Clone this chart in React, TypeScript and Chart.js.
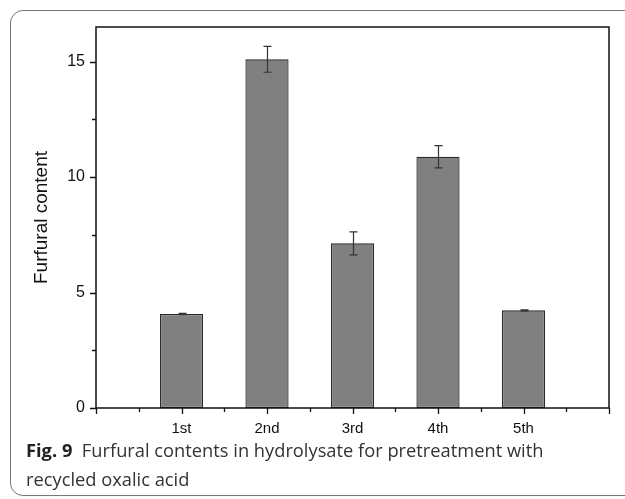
import React, { useEffect, useRef } from "react";
import { Chart, registerables } from "chart.js";

Chart.register(...registerables);

const categories = ["", "1st", "2nd", "3rd", "4th", "5th", ""];
const furfural: (number | null)[] = [null, 4.07, 15.1, 7.13, 10.88, 4.23, null];
const furfuralErr: (number | null)[] = [null, 0.03, 0.56, 0.5, 0.48, 0.02, null];
const yMin = 0;
const yMax = 16.5;
const yMajorStep = 5;
const yMinorStep = 2.5;
const yTitle = "Furfural content";
const captionBold = "Fig. 9";
const captionLine1 = "Furfural contents in hydrolysate for pretreatment with";
const captionLine2 = "recycled oxalic acid";

const axisFont = "'Liberation Sans', Arial, sans-serif";

const boxAndTicks = {
  id: "boxAndTicks",
  afterDraw(chart: any) {
    const { ctx, chartArea } = chart;
    const ys = chart.scales.y;
    const xs = chart.scales.x;
    ctx.save();
    ctx.strokeStyle = "#111";
    ctx.lineWidth = 1.5;
    ctx.strokeRect(chartArea.left, chartArea.top, chartArea.right - chartArea.left, chartArea.bottom - chartArea.top);
    ctx.lineWidth = 1.3;
    ctx.beginPath();
    for (let v = yMin; v <= yMax + 1e-9; v += yMinorStep) {
      const py = Math.round(ys.getPixelForValue(v)) + 0.5;
      const major = Math.abs(v / yMajorStep - Math.round(v / yMajorStep)) < 1e-6;
      const len = major ? 6 : 4;
      ctx.moveTo(chartArea.left, py);
      ctx.lineTo(chartArea.left - len, py);
    }
    const n = categories.length;
    for (let i = 0; i < n; i++) {
      const px = Math.round(xs.getPixelForValue(i)) + 0.5;
      ctx.moveTo(px, chartArea.bottom);
      ctx.lineTo(px, chartArea.bottom + 6);
      if (i < n - 1) {
        const mx = Math.round((xs.getPixelForValue(i) + xs.getPixelForValue(i + 1)) / 2) + 0.5;
        ctx.moveTo(mx, chartArea.bottom);
        ctx.lineTo(mx, chartArea.bottom + 4);
      }
    }
    ctx.stroke();
    ctx.restore();
  },
};

const errorBars = {
  id: "errorBars",
  afterDatasetsDraw(chart: any) {
    const { ctx } = chart;
    const ys = chart.scales.y;
    const meta = chart.getDatasetMeta(0);
    ctx.save();
    ctx.strokeStyle = "#333";
    ctx.lineWidth = 1.2;
    meta.data.forEach((el: any, i: number) => {
      const v = furfural[i];
      const e = furfuralErr[i];
      if (v == null || e == null) return;
      const x = Math.round(el.x) + 0.5;
      const top = ys.getPixelForValue(v + e);
      const bot = ys.getPixelForValue(v - e);
      ctx.beginPath();
      ctx.moveTo(x, top);
      ctx.lineTo(x, bot);
      ctx.moveTo(x - 4, top);
      ctx.lineTo(x + 4, top);
      ctx.moveTo(x - 4, bot);
      ctx.lineTo(x + 4, bot);
      ctx.stroke();
    });
    ctx.restore();
  },
};

export default function App() {
  const canvasRef = useRef<HTMLCanvasElement | null>(null);

  useEffect(() => {
    const chart = new Chart(canvasRef.current as HTMLCanvasElement, {
      type: "bar",
      data: {
        labels: categories,
        datasets: [
          {
            data: furfural as any,
            backgroundColor: "#808080",
            borderColor: "#2a2a2a",
            borderWidth: 1.3,
            borderSkipped: false,
            categoryPercentage: 1,
            barPercentage: 0.505,
          },
        ],
      },
      options: {
        animation: false,
        responsive: false,
        maintainAspectRatio: false,
        layout: { padding: { left: 0, right: 16, top: 27, bottom: 0 } },
        plugins: { legend: { display: false }, tooltip: { enabled: false }, title: { display: false } },
        scales: {
          x: {
            type: "category",
            offset: false,
            grid: { display: false, drawTicks: false },
            border: { display: false },
            ticks: {
              color: "#111",
              font: { family: axisFont, size: 15 },
              padding: 12,
              autoSkip: false,
              maxRotation: 0,
            },
            afterFit: (s: any) => {
              s.height = 91;
            },
          },
          y: {
            min: yMin,
            max: yMax,
            grid: { display: false, drawTicks: false },
            border: { display: false },
            ticks: {
              stepSize: yMinorStep,
              includeBounds: false,
              color: "#111",
              font: { family: axisFont, size: 16 },
              padding: 11,
              callback: (v: any) => (Math.abs(v % yMajorStep) < 1e-6 ? String(v) : ""),
            },
            title: {
              display: true,
              text: yTitle,
              color: "#111",
              font: { family: axisFont, size: 19 },
              padding: { top: 30, bottom: 0 },
            },
            afterFit: (s: any) => {
              s.width = 96;
            },
          },
        },
      },
      plugins: [errorBars, boxAndTicks],
    });
    return () => chart.destroy();
  }, []);

  return (
    <div style={{ position: "fixed", left: 0, top: 0, width: 625, height: 499, overflow: "hidden", background: "#fff" }}>
      <div
        style={{
          position: "absolute",
          left: 10,
          top: 10,
          width: 700,
          height: 486,
          border: "1.5px solid #777",
          borderRadius: 13,
          boxSizing: "border-box",
        }}
      />
      <canvas ref={canvasRef} width={625} height={499} style={{ position: "absolute", left: 0, top: 0, width: 625, height: 499 }} />
      <div
        style={{
          position: "absolute",
          left: 26,
          top: 435,
          fontFamily: "'Open Sans', 'Noto Sans', sans-serif",
          fontSize: 18.3,
          lineHeight: "29px",
          color: "#333",
          whiteSpace: "nowrap",
        }}
      >
        <div>
          <span style={{ fontWeight: 700, color: "#222" }}>{captionBold}</span>
          <span>{"\u00a0\u00a0" + captionLine1}</span>
        </div>
        <div>{captionLine2}</div>
      </div>
    </div>
  );
}
